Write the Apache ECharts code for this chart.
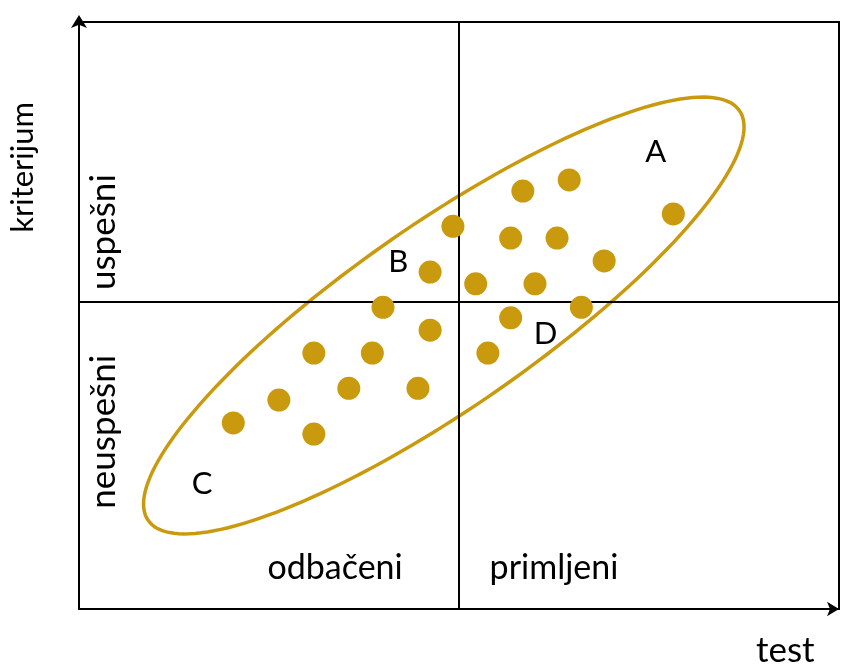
<!DOCTYPE html>
<html>
<head>
<meta charset="utf-8">
<script src="https://cdn.jsdelivr.net/npm/echarts@6/dist/echarts.min.js"></script>
<style>
  html, body { margin: 0; padding: 0; background: #fff; }
  #chart { width: 843px; height: 668px; }
</style>
</head>
<body>
<div id="chart"></div>
<script>
// candidates: [test score, criterion score]
const points = [
  [58.4, 71.2], [64.5, 73.1], [78.2, 67.3], [49.2, 65.2], [56.8, 63.2],
  [62.9, 63.2], [69.1, 59.3], [46.2, 57.4], [52.2, 55.4], [60.0, 55.4],
  [40.0, 51.4], [66.1, 51.4], [56.8, 49.6], [46.2, 47.5], [30.9, 43.6],
  [38.6, 43.6], [53.8, 43.6], [35.5, 37.6], [44.6, 37.6], [26.3, 35.6],
  [20.3, 31.7], [30.9, 29.8]
];
// ellipse: center, end of major semi-axis, end of minor semi-axis
const ellipse = [48.0, 50.0, 86.9, 84.9, 54.9, 37.1];
// cut-off lines
const testCut = 50;
const criterionCut = 52.3;
// region letters
const letters = [
  { name: "A", value: [75.9, 77.9] },
  { name: "B", value: [42.0, 59.1] },
  { name: "C", value: [16.2, 21.3] },
  { name: "D", value: [61.4, 46.8] }
];
const xGroups = [
  { name: "odbačeni", value: [33.7, 7.0] },
  { name: "primljeni", value: [62.5, 7.0] }
];
const yGroups = [
  { name: "uspešni", value: [3.3, 64.2] },
  { name: "neuspešni", value: [3.3, 30.2] }
];

const gold = "#C99A0E";
const font = "Lato";

function textSeries(data, size, rotate) {
  return {
    type: "scatter",
    symbolSize: 0,
    silent: true,
    itemStyle: { opacity: 1 },
    label: {
      show: true,
      position: "inside",
      rotate: rotate,
      formatter: "{b}",
      color: "#000",
      opacity: 1,
      fontFamily: font,
      fontSize: size,
    },
    data: data,
  };
}

const chart = echarts.init(document.getElementById("chart"));
chart.setOption({
  animation: false,
  backgroundColor: "#fff",
  grid: {
    left: 79,
    right: 4,
    top: 22,
    bottom: 59,
    show: true,
    borderColor: "#000",
    borderWidth: 2,
  },
  xAxis: {
    type: "value",
    min: 0,
    max: 100,
    axisLabel: { show: false },
    axisTick: { show: false },
    splitLine: { show: false },
    axisLine: {
      lineStyle: { color: "#000", width: 2 },
      symbol: ["none", "arrow"],
      symbolSize: [11, 12],
      symbolOffset: [0, 0],
    },
  },
  yAxis: {
    type: "value",
    min: 0,
    max: 100,
    axisLabel: { show: false },
    axisTick: { show: false },
    splitLine: { show: false },
    axisLine: {
      lineStyle: { color: "#000", width: 2 },
      symbol: ["none", "arrow"],
      symbolSize: [12, 13],
      symbolOffset: [0, 7],
    },
  },
  graphic: [
    {
      type: "text",
      left: 7,
      top: 102,
      rotation: Math.PI / 2,
      style: { text: "kriterijum", font: "31px " + font, fill: "#000" },
    },
    {
      type: "text",
      x: 756,
      y: 633,
      style: { text: "test", font: "35px " + font, fill: "#000" },
    },
  ],
  series: [
    {
      type: "custom",
      z: 1,
      silent: true,
      data: [ellipse],
      renderItem: function (params, api) {
        const c = api.coord([api.value(0), api.value(1)]);
        const m = api.coord([api.value(2), api.value(3)]);
        const n = api.coord([api.value(4), api.value(5)]);
        const pts = [];
        for (let i = 0; i < 180; i++) {
          const t = (i / 180) * Math.PI * 2;
          pts.push([
            c[0] + (m[0] - c[0]) * Math.cos(t) + (n[0] - c[0]) * Math.sin(t),
            c[1] + (m[1] - c[1]) * Math.cos(t) + (n[1] - c[1]) * Math.sin(t),
          ]);
        }
        return {
          type: "polygon",
          shape: { points: pts },
          style: { fill: "none", stroke: gold, lineWidth: 3.5 },
        };
      },
    },
    {
      type: "scatter",
      z: 3,
      symbolSize: 23,
      itemStyle: { color: gold, opacity: 1 },
      data: points,
      markLine: {
        silent: true,
        symbol: "none",
        label: { show: false },
        lineStyle: { color: "#000", width: 2, type: "solid" },
        data: [{ xAxis: testCut }, { yAxis: criterionCut }],
        z: 2,
      },
    },
    textSeries(letters, 31, 0),
    textSeries(xGroups, 34, 0),
    textSeries(yGroups, 35, 90),
  ],
});
</script>
</body>
</html>
